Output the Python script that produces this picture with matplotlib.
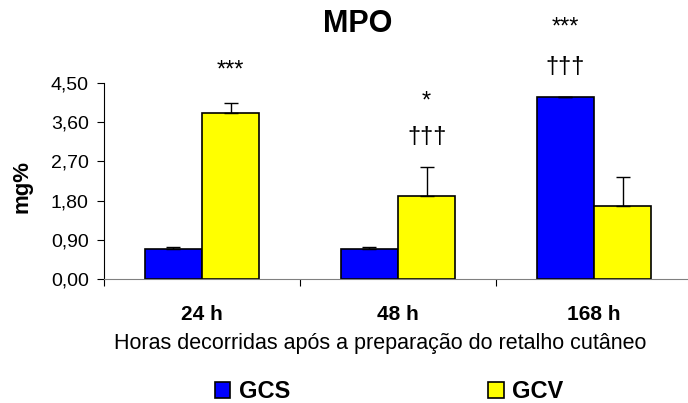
import numpy as np
import matplotlib
matplotlib.use('Agg')
import matplotlib.pyplot as plt

plt.rcParams['font.family'] = ['Liberation Sans', 'DejaVu Sans']

categories = ['24 h', '48 h', '168 h']
gcs = [0.69, 0.70, 4.18]
gcs_err = [0.04, 0.03, 0.01]
gcv = [3.80, 1.90, 1.68]
gcv_err = [0.23, 0.67, 0.66]
y_ticks = [0.0, 0.9, 1.8, 2.7, 3.6, 4.5]

# significance marks: (category, series, text, y)
marks = [
    (0, 'GCV', '***', 4.78),
    (1, 'GCV', '*', 4.07),
    (1, 'GCV', '†††', 3.26),
    (2, 'GCS', '***', 5.77),
    (2, 'GCS', '†††', 4.86),
]

fig = plt.figure(figsize=(6.88, 4.03), dpi=100)
ax = fig.add_axes([104 / 688, 124 / 403, 588 / 688, 196 / 403])

x = np.arange(len(categories))
w = 0.293
ax.bar(x - w / 2, gcs, w, color='#0000FF', edgecolor='black', linewidth=1.2, label='GCS', zorder=2)
ax.bar(x + w / 2, gcv, w, color='#FFFF00', edgecolor='black', linewidth=1.2, label='GCV', zorder=2)
ax.errorbar(x - w / 2, gcs, yerr=[np.zeros(3), gcs_err], fmt='none', ecolor='black',
            elinewidth=1, capsize=5, capthick=1, zorder=3)
ax.errorbar(x + w / 2, gcv, yerr=[np.zeros(3), gcv_err], fmt='none', ecolor='black',
            elinewidth=1, capsize=5, capthick=1, zorder=3)

for i, s, txt, yy in marks:
    xx = x[i] - w / 2 if s == 'GCS' else x[i] + w / 2
    ax.text(xx, yy, txt, ha='center', va='center', fontsize=17, clip_on=False)

ax.set_xlim(-0.5, 2.5)
ax.set_ylim(0, 4.5)
ax.set_yticks(y_ticks)
ax.set_yticklabels([f'{v:.2f}'.replace('.', ',') for v in y_ticks], fontsize=14)
ax.set_xticks([-0.5, 0.5, 1.5, 2.5])
ax.set_xticklabels([])
ax.set_xticks(x, minor=True)
ax.set_xticklabels(categories, minor=True, fontsize=15, fontweight='bold')
ax.tick_params(axis='x', which='minor', length=0, pad=19)
ax.tick_params(axis='x', which='major', length=5, direction='out', color='black')
ax.tick_params(axis='y', length=5, direction='out', pad=6)

ax.spines['top'].set_visible(False)
ax.spines['right'].set_visible(False)
ax.spines['bottom'].set_color('#808080')
ax.spines['left'].set_color('black')

ax.set_ylabel('mg%', fontsize=16, fontweight='bold')
ax.yaxis.set_label_coords(-0.122, 0.47)

fig.text(358 / 688, 1 - 24 / 403, 'MPO', ha='center', va='center', fontsize=22, fontweight='bold')
fig.text(380 / 688, 1 - 343 / 403, 'Horas decorridas após a preparação do retalho cutâneo',
         ha='center', va='center', fontsize=15.5)

fig.legend(loc='center', bbox_to_anchor=(389 / 688, 1 - 392 / 403), ncol=2, frameon=False,
           handlelength=0.65, handleheight=0.65, handletextpad=0.35, columnspacing=8.4,
           prop={'weight': 'bold', 'size': 17})

fig.savefig('out.png', dpi=100)
